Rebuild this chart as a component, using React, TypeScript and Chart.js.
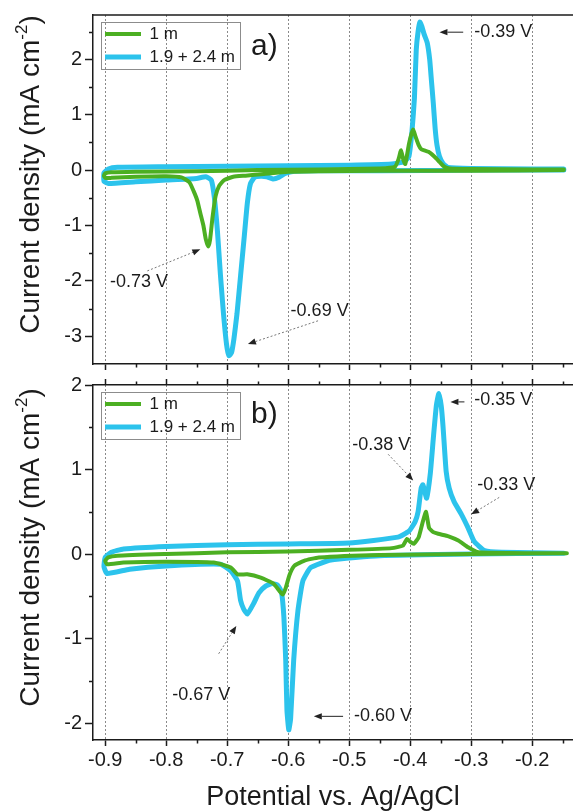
import React, { useEffect, useRef } from 'react';
import { Chart, registerables } from 'chart.js';

Chart.register(...registerables);

const FONT = "'Liberation Sans', Arial, Helvetica, sans-serif";
const INK = '#1b1b1b';
const GREEN = '#4CAF22';
const CYAN = '#2CC3EC';

// ---------- labels & ticks ----------
const seriesNames = ['1 m', '1.9 + 2.4 m'];
const potentialTicks = [-0.9, -0.8, -0.7, -0.6, -0.5, -0.4, -0.3, -0.2];
const topCurrentTicks = [-3, -2, -1, 0, 1, 2];
const bottomCurrentTicks = [-2, -1, 0, 1, 2];
const xTitle = 'Potential vs. Ag/AgCl';
const yTitleMain = 'Current density (mA cm';
const yTitleSup = '-2';
const yTitleEnd = ')';

// ---------- panel a) ----------
const aGreenE = [-0.148, -0.30, -0.45, -0.55, -0.60, -0.64, -0.67, -0.69, -0.705, -0.713, -0.719, -0.724, -0.728, -0.731, -0.735, -0.739, -0.744, -0.749, -0.755, -0.762, -0.775, -0.80, -0.85, -0.89, -0.90, -0.902, -0.90, -0.89, -0.85, -0.75, -0.65, -0.55, -0.45, -0.425, -0.419, -0.415, -0.411, -0.408, -0.402, -0.398, -0.395, -0.391, -0.386, -0.382, -0.37, -0.36, -0.352, -0.344, -0.335, -0.30, -0.20, -0.148];
const aGreenJ = [0.00, -0.01, -0.01, -0.02, -0.03, -0.07, -0.10, -0.12, -0.18, -0.28, -0.47, -0.85, -1.25, -1.38, -1.25, -1.00, -0.78, -0.55, -0.38, -0.22, -0.13, -0.11, -0.12, -0.14, -0.14, -0.10, -0.06, -0.04, -0.03, -0.02, 0.00, 0.01, 0.03, 0.06, 0.20, 0.36, 0.18, 0.11, 0.47, 0.65, 0.73, 0.60, 0.45, 0.38, 0.33, 0.24, 0.15, 0.06, 0.03, 0.02, 0.01, 0.01];
const aCyanE = [-0.148, -0.30, -0.45, -0.55, -0.59, -0.605, -0.615, -0.625, -0.635, -0.645, -0.655, -0.662, -0.667, -0.672, -0.678, -0.684, -0.689, -0.693, -0.697, -0.701, -0.706, -0.711, -0.716, -0.721, -0.726, -0.735, -0.75, -0.80, -0.85, -0.895, -0.902, -0.902, -0.895, -0.88, -0.80, -0.70, -0.60, -0.50, -0.43, -0.41, -0.402, -0.397, -0.393, -0.39, -0.387, -0.384, -0.381, -0.377, -0.372, -0.368, -0.365, -0.362, -0.359, -0.356, -0.352, -0.346, -0.338, -0.30, -0.20, -0.148];
const aCyanJ = [0.00, 0.00, -0.01, -0.01, -0.02, -0.06, -0.13, -0.16, -0.12, -0.11, -0.13, -0.25, -0.60, -1.20, -1.90, -2.60, -3.05, -3.30, -3.35, -3.15, -2.60, -1.90, -1.10, -0.50, -0.18, -0.12, -0.15, -0.18, -0.21, -0.24, -0.20, -0.05, 0.02, 0.05, 0.06, 0.07, 0.08, 0.09, 0.11, 0.15, 0.25, 0.70, 1.30, 2.17, 2.50, 2.67, 2.60, 2.45, 2.30, 2.00, 1.60, 1.20, 0.75, 0.45, 0.25, 0.12, 0.05, 0.03, 0.02, 0.02];

const aTag = 'a)';
const aTagAt = [-0.661, 2.23];
const aNotes = ['-0.39 V', '-0.73 V', '-0.69 V'];
const aNoteAt = [[-0.295, 2.49], [-0.892, -2.02], [-0.596, -2.54]];
const aArrowFrom = [[-0.313, 2.49], [-0.831, -1.82], [-0.551, -2.72]];
const aArrowTo = [[-0.352, 2.49], [-0.744, -1.43], [-0.666, -3.14]];
const aArrowDotted = [false, true, true];

// ---------- panel b) ----------
const bGreenE = [-0.143, -0.30, -0.45, -0.55, -0.574, -0.59, -0.598, -0.604, -0.609, -0.614, -0.624, -0.645, -0.667, -0.683, -0.694, -0.722, -0.80, -0.87, -0.897, -0.90, -0.895, -0.88, -0.80, -0.70, -0.60, -0.50, -0.43, -0.412, -0.405, -0.399, -0.394, -0.386, -0.379, -0.374, -0.369, -0.362, -0.354, -0.337, -0.321, -0.305, -0.288, -0.20, -0.143];
const bGreenJ = [0.01, 0.00, -0.01, -0.04, -0.08, -0.14, -0.25, -0.40, -0.48, -0.44, -0.35, -0.28, -0.24, -0.24, -0.16, -0.10, -0.09, -0.10, -0.12, -0.08, -0.04, -0.02, 0.00, 0.02, 0.03, 0.05, 0.07, 0.10, 0.18, 0.14, 0.12, 0.20, 0.39, 0.50, 0.31, 0.26, 0.24, 0.21, 0.16, 0.08, 0.02, 0.01, 0.01];
const bCyanE = [-0.148, -0.30, -0.45, -0.53, -0.563, -0.576, -0.584, -0.591, -0.596, -0.599, -0.602, -0.604, -0.607, -0.611, -0.617, -0.626, -0.637, -0.648, -0.657, -0.667, -0.673, -0.678, -0.683, -0.694, -0.711, -0.80, -0.86, -0.897, -0.902, -0.90, -0.89, -0.87, -0.80, -0.70, -0.60, -0.50, -0.42, -0.402, -0.392, -0.387, -0.382, -0.379, -0.376, -0.373, -0.367, -0.362, -0.357, -0.353, -0.349, -0.346, -0.341, -0.336, -0.328, -0.316, -0.305, -0.295, -0.278, -0.25, -0.148];
const bCyanJ = [0.01, 0.00, -0.02, -0.07, -0.16, -0.32, -0.67, -1.26, -1.95, -2.08, -1.85, -1.26, -0.75, -0.45, -0.37, -0.35, -0.38, -0.46, -0.59, -0.71, -0.65, -0.55, -0.32, -0.20, -0.12, -0.14, -0.18, -0.23, -0.15, -0.04, 0.02, 0.06, 0.09, 0.11, 0.12, 0.13, 0.20, 0.27, 0.38, 0.50, 0.78, 0.82, 0.74, 0.66, 0.95, 1.37, 1.76, 1.90, 1.75, 1.50, 0.98, 0.78, 0.62, 0.47, 0.31, 0.15, 0.04, 0.02, 0.01];

const bTag = 'b)';
const bTagAt = [-0.661, 1.65];
const bNotes = ['-0.35 V', '-0.38 V', '-0.33 V', '-0.67 V', '-0.60 V'];
const bNoteAt = [[-0.295, 1.82], [-0.495, 1.29], [-0.29, 0.82], [-0.79, -1.67], [-0.492, -1.92]];
const bArrowFrom = [[-0.311, 1.8], [-0.436, 1.18], [-0.254, 0.67], [-0.714, -1.18], [-0.51, -1.92]];
const bArrowTo = [[-0.334, 1.8], [-0.395, 0.87], [-0.3, 0.47], [-0.685, -0.85], [-0.558, -1.92]];
const bArrowDotted = [false, true, true, true, false];

const X_MIN = -0.92;
const X_MAX = -0.133;

const pts = (E: number[], J: number[]) => E.map((e, i) => ({ x: e, y: J[i] }));

function drawArrow(ctx: any, x1: number, y1: number, x2: number, y2: number, dotted: boolean) {
  const ang = Math.atan2(y2 - y1, x2 - x1);
  const hl = 8;
  const hw = 3.2;
  const bx = x2 - Math.cos(ang) * hl;
  const by = y2 - Math.sin(ang) * hl;
  ctx.save();
  ctx.strokeStyle = dotted ? '#777' : '#222';
  ctx.lineWidth = 1;
  ctx.setLineDash(dotted ? [2, 2] : []);
  ctx.beginPath();
  ctx.moveTo(x1, y1);
  ctx.lineTo(bx, by);
  ctx.stroke();
  ctx.setLineDash([]);
  ctx.fillStyle = '#222';
  ctx.beginPath();
  ctx.moveTo(x2, y2);
  ctx.lineTo(bx + Math.sin(ang) * hw, by - Math.cos(ang) * hw);
  ctx.lineTo(bx - Math.sin(ang) * hw, by + Math.cos(ang) * hw);
  ctx.closePath();
  ctx.fill();
  ctx.restore();
}

function decorPlugin(p: any) {
  return {
    id: 'decor',
    afterLayout(chart: any) {
      const lg = chart.legend;
      const ca = chart.chartArea;
      if (lg && ca) {
        const h = lg.bottom - lg.top;
        lg.left = ca.left + 6;
        lg.top = ca.top + 4.5;
        lg.bottom = lg.top + h;
      }
    },
    afterDraw(chart: any) {
      const ctx = chart.ctx;
      const ca = chart.chartArea;
      const xs = chart.scales.x;
      const ys = chart.scales.y;
      ctx.save();
      // frame
      ctx.strokeStyle = INK;
      ctx.lineWidth = 1.5;
      if (p.frameTop) {
        ctx.beginPath();
        ctx.moveTo(ca.left, ca.top);
        ctx.lineTo(ca.right, ca.top);
        ctx.stroke();
      }
      // minor ticks
      ctx.lineWidth = 1.5;
      ctx.beginPath();
      potentialTicks.forEach((v) => {
        const m = v + 0.05;
        if (m > X_MIN && m < X_MAX) {
          const px = Math.round(xs.getPixelForValue(m)) + 0.5;
          ctx.moveTo(px, ca.bottom);
          ctx.lineTo(px, ca.bottom + 3.5);
          if (p.topTicks) {
            ctx.moveTo(px, ca.top);
            ctx.lineTo(px, ca.top - 3.5);
          }
        }
      });
      p.yTicks.forEach((v: number) => {
        const m = v + 0.5;
        if (m > ys.min && m < ys.max) {
          const py = Math.round(ys.getPixelForValue(m)) + 0.5;
          ctx.moveTo(ca.left, py);
          ctx.lineTo(ca.left - 4, py);
        }
        const m2 = v - 0.5;
        if (v === p.yTicks[0] && m2 > ys.min) {
          const py = Math.round(ys.getPixelForValue(m2)) + 0.5;
          ctx.moveTo(ca.left, py);
          ctx.lineTo(ca.left - 4, py);
        }
      });
      ctx.stroke();

      // legend frame
      ctx.strokeStyle = '#8c8c8c';
      ctx.lineWidth = 1;
      ctx.strokeRect(ca.left + 8.5, ca.top + 7.5, 139, 47);

      // y title with superscript
      ctx.save();
      ctx.translate(31, (ca.top + ca.bottom) / 2 - 15);
      ctx.rotate(-Math.PI / 2);
      ctx.fillStyle = INK;
      ctx.textBaseline = 'middle';
      ctx.textAlign = 'left';
      const big = `28px ${FONT}`;
      const small = `17px ${FONT}`;
      ctx.font = big;
      const w1 = ctx.measureText(yTitleMain).width;
      const w3 = ctx.measureText(yTitleEnd).width;
      ctx.font = small;
      const w2 = ctx.measureText(yTitleSup).width;
      const x0 = -(w1 + w2 + w3) / 2;
      ctx.font = big;
      ctx.fillText(yTitleMain, x0, 0);
      ctx.font = small;
      ctx.fillText(yTitleSup, x0 + w1, -9);
      ctx.font = big;
      ctx.fillText(yTitleEnd, x0 + w1 + w2, 0);
      ctx.restore();

      // annotations
      ctx.fillStyle = INK;
      ctx.textBaseline = 'middle';
      ctx.textAlign = 'left';
      ctx.font = `18px ${FONT}`;
      p.notes.forEach((t: string, i: number) => {
        ctx.fillText(t, xs.getPixelForValue(p.at[i][0]), ys.getPixelForValue(p.at[i][1]));
        drawArrow(
          ctx,
          xs.getPixelForValue(p.from[i][0]),
          ys.getPixelForValue(p.from[i][1]),
          xs.getPixelForValue(p.to[i][0]),
          ys.getPixelForValue(p.to[i][1]),
          p.dotted[i]
        );
      });
      ctx.font = `30px ${FONT}`;
      ctx.fillText(p.tag, xs.getPixelForValue(p.tagAt[0]), ys.getPixelForValue(p.tagAt[1]));
      ctx.restore();
    },
  };
}

function makeConfig(p: any) {
  const tickFont = { size: 20, family: FONT };
  const setXTicks = (s: any) => {
    s.ticks = potentialTicks.map((v) => ({ value: v }));
  };
  const scales: any = {
    x: {
      type: 'linear',
      position: 'bottom',
      min: X_MIN,
      max: X_MAX,
      afterBuildTicks: setXTicks,
      ticks: {
        display: p.xLabels,
        font: tickFont,
        color: INK,
        padding: 2,
        maxRotation: 0,
        autoSkip: false,
        callback: (v: any) => Number(v).toFixed(1),
      },
      grid: {
        display: true,
        drawOnChartArea: true,
        color: '#8a8a8a',
        lineWidth: 1,
        drawTicks: true,
        tickLength: 6,
        tickColor: INK,
        tickWidth: 1.5,
        tickBorderDash: [],
      },
      border: { display: true, color: INK, width: 1.5, dash: [2, 2] },
      title: p.xLabels
        ? { display: true, text: xTitle, font: { size: 27, family: FONT, lineHeight: 1 }, color: INK, padding: 0 }
        : { display: false },
      afterFit: (s: any) => {
        s.height = p.xHeight;
      },
    },
    y: {
      type: 'linear',
      position: 'left',
      min: p.yMin,
      max: p.yMax,
      afterBuildTicks: (s: any) => {
        s.ticks = p.yTicks.map((v: number) => ({ value: v }));
      },
      ticks: { font: tickFont, color: INK, padding: 3, callback: (v: any) => String(v) },
      grid: { display: true, drawOnChartArea: false, drawTicks: true, tickLength: 8, tickColor: INK, tickWidth: 1.5 },
      border: { display: true, color: INK, width: 1.5 },
      afterFit: (s: any) => {
        s.width = 93;
      },
    },
  };
  if (p.topTicks) {
    scales.x2 = {
      type: 'linear',
      position: 'top',
      min: X_MIN,
      max: X_MAX,
      afterBuildTicks: setXTicks,
      ticks: { display: false },
      grid: { display: true, drawOnChartArea: false, drawTicks: true, tickLength: 6, tickColor: INK, tickWidth: 1.5 },
      border: { display: true, color: INK, width: 1.5 },
      afterFit: (s: any) => {
        s.height = p.topHeight;
      },
    };
  }
  return {
    type: 'scatter',
    data: {
      datasets: [
        {
          label: seriesNames[0],
          data: pts(p.greenE, p.greenJ),
          showLine: true,
          borderColor: GREEN,
          backgroundColor: GREEN,
          borderWidth: 4,
          pointRadius: 0,
          tension: 0.15,
          borderCapStyle: 'round',
          borderJoinStyle: 'round',
          fill: false,
        },
        {
          label: seriesNames[1],
          data: pts(p.cyanE, p.cyanJ),
          showLine: true,
          borderColor: CYAN,
          backgroundColor: CYAN,
          borderWidth: 5,
          pointRadius: 0,
          tension: 0.15,
          borderCapStyle: 'round',
          borderJoinStyle: 'round',
          fill: false,
        },
      ],
    },
    options: {
      responsive: false,
      animation: false,
      events: [],
      layout: { padding: { top: p.padTop, left: 0, right: 0, bottom: 0 } },
      scales,
      plugins: {
        legend: {
          position: 'chartArea',
          align: 'start',
          labels: {
            usePointStyle: true,
            pointStyle: 'line',
            pointStyleWidth: 36,
            padding: 6,
            color: INK,
            font: { size: 17, family: FONT },
          },
        },
        tooltip: { enabled: false },
        title: { display: false },
      },
    },
    plugins: [decorPlugin(p)],
  };
}

export default function App() {
  const refA = useRef<HTMLCanvasElement>(null);
  const refB = useRef<HTMLCanvasElement>(null);

  useEffect(() => {
    document.body.style.margin = '0';
    const chartA = new Chart(
      refA.current as HTMLCanvasElement,
      makeConfig({
        greenE: aGreenE,
        greenJ: aGreenJ,
        cyanE: aCyanE,
        cyanJ: aCyanJ,
        yMin: -3.5,
        yMax: 2.8,
        yTicks: topCurrentTicks,
        xLabels: false,
        xHeight: 7,
        padTop: 14,
        topTicks: false,
        frameTop: true,
        tag: aTag,
        tagAt: aTagAt,
        notes: aNotes,
        at: aNoteAt,
        from: aArrowFrom,
        to: aArrowTo,
        dotted: aArrowDotted,
      }) as any
    );
    const chartB = new Chart(
      refB.current as HTMLCanvasElement,
      makeConfig({
        greenE: bGreenE,
        greenJ: bGreenJ,
        cyanE: bCyanE,
        cyanJ: bCyanJ,
        yMin: -2.2,
        yMax: 2,
        yTicks: bottomCurrentTicks,
        xLabels: true,
        xHeight: 71,
        padTop: 0,
        topTicks: true,
        topHeight: 12,
        frameTop: false,
        tag: bTag,
        tagAt: bTagAt,
        notes: bNotes,
        at: bNoteAt,
        from: bArrowFrom,
        to: bArrowTo,
        dotted: bArrowDotted,
      }) as any
    );
    return () => {
      chartA.destroy();
      chartB.destroy();
    };
  }, []);

  return (
    <div style={{ position: 'relative', width: 573, height: 811, background: '#fff', overflow: 'hidden' }}>
      <canvas ref={refA} width={573} height={379} style={{ position: 'absolute', left: 0, top: 0 }} />
      <canvas ref={refB} width={573} height={441} style={{ position: 'absolute', left: 0, top: 370 }} />
    </div>
  );
}
